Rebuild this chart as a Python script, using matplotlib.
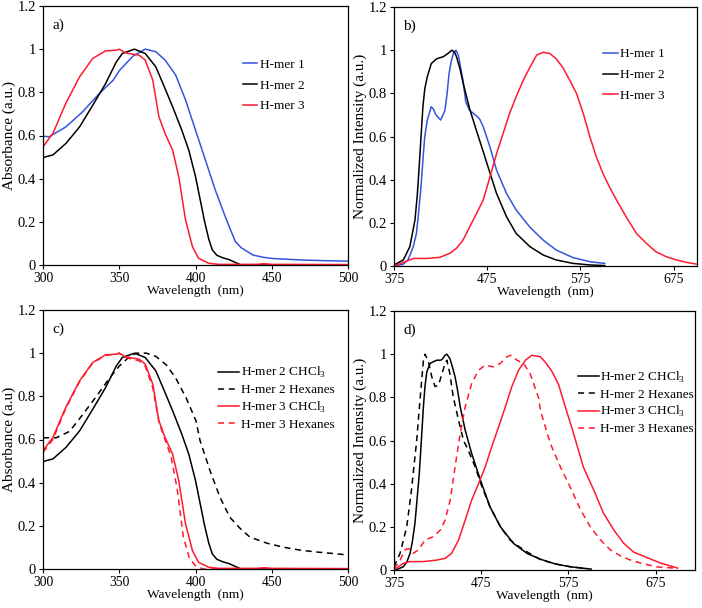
import matplotlib
matplotlib.use("Agg")
import matplotlib.pyplot as plt
from matplotlib.ticker import FuncFormatter

plt.rcParams['font.family'] = ['Liberation Serif', 'DejaVu Serif']
plt.rcParams['mathtext.fontset'] = 'custom'
plt.rcParams['mathtext.rm'] = 'Liberation Serif'

BLUE = '#3355dd'
RED = '#ff1a2e'
BLACK = '#000000'

# ---- a) absorbance in CHCl3 (also the solid curves of c)
abs_wl_h1 = [300, 304, 315, 326, 337, 346, 350, 359, 367, 374, 380, 387, 393.5, 400, 406.5,
             413, 419.5, 426, 430, 437.7, 445, 451, 470, 485, 500]
abs_h1 = [0.597, 0.594, 0.64, 0.71, 0.795, 0.856, 0.90, 0.968, 1.0, 0.988, 0.95, 0.88, 0.764,
          0.625, 0.486, 0.347, 0.224, 0.11, 0.08, 0.046, 0.035, 0.03, 0.023, 0.02, 0.018]

abs_wl_h2 = [300, 306.5, 315, 324, 332.6, 341, 348, 352, 360, 367, 374, 380, 385, 391, 395.6,
             400, 404, 406, 408.7, 411, 414, 418, 422, 426, 430, 500]
abs_h2 = [0.498, 0.51, 0.563, 0.64, 0.74, 0.84, 0.94, 0.98, 1.0, 0.98, 0.918, 0.818, 0.733,
          0.625, 0.532, 0.41, 0.27, 0.2, 0.12, 0.07, 0.045, 0.033, 0.025, 0.012, 0.0, 0.0]

abs_wl_h3 = [300, 306.5, 315, 324, 332.6, 341, 348, 350, 354, 363, 367, 372, 376, 380, 385,
             389, 393.5, 398, 402, 408.7, 415, 440, 445, 450, 500]
abs_h3 = [0.548, 0.61, 0.75, 0.872, 0.957, 0.992, 0.995, 1.0, 0.983, 0.972, 0.95, 0.856, 0.687,
          0.61, 0.532, 0.41, 0.208, 0.085, 0.031, 0.008, 0.003, 0.003, 0.006, 0.003, 0.002]

# ---- c) hexanes absorbance
abs_wl_h2_hex = [300, 308.7, 317.5, 326, 335, 343.7, 350, 355.7, 361, 367.7, 374, 380.8, 387,
                 393.9, 400.4, 402.9, 409.4, 416, 422.5, 429, 435.6, 446.6, 457, 468, 479, 490, 500]
abs_h2_hex = [0.608, 0.608, 0.638, 0.715, 0.80, 0.885, 0.94, 0.977, 1.0, 1.0, 0.985, 0.946,
              0.885, 0.792, 0.685, 0.597, 0.458, 0.333, 0.24, 0.19, 0.148, 0.12, 0.102, 0.088,
              0.079, 0.072, 0.065]

abs_wl_h3_hex = [300, 306.5, 315, 324, 332.6, 341, 348, 350, 354, 363, 367, 372, 376, 380, 384,
                 388, 392, 396, 400, 405, 500]
abs_h3_hex = [0.54, 0.60, 0.745, 0.868, 0.955, 0.99, 0.995, 1.0, 0.98, 0.965, 0.94, 0.84, 0.68,
              0.60, 0.52, 0.37, 0.15, 0.05, 0.015, 0.0, 0.0]

# ---- b) emission in CHCl3
em_wl_b_h1 = [375, 385, 390, 395.7, 399, 401, 404, 406, 408, 410.7, 415, 417.5, 420, 425, 429.6,
              432, 434, 436.5, 438.6, 441.4, 444, 449, 452, 456, 463.6, 467, 470.7, 477.9, 485,
              495.7, 506, 520.7, 535, 549, 567, 585, 601]
em_b_h1 = [0.0, 0.008, 0.028, 0.09, 0.15, 0.23, 0.37, 0.49, 0.6, 0.676, 0.738, 0.725, 0.70,
           0.676, 0.72, 0.8, 0.89, 0.95, 0.985, 1.0, 0.977, 0.86, 0.76, 0.722, 0.695, 0.68,
           0.645, 0.552, 0.444, 0.336, 0.26, 0.18, 0.12, 0.074, 0.039, 0.02, 0.012]

em_wl_b_h2 = [375, 385, 392, 397.5, 400, 402, 404, 406, 408, 410.7, 415, 420.7, 428, 433, 437,
              440, 442, 446, 449, 456, 463.6, 470.7, 478, 485, 495.7, 506, 520.7, 535, 549, 567,
              585, 601]
em_b_h2 = [0.005, 0.028, 0.09, 0.213, 0.33, 0.46, 0.6, 0.738, 0.82, 0.877, 0.938, 0.96, 0.97,
           0.985, 1.0, 0.99, 0.97, 0.91, 0.85, 0.73, 0.625, 0.53, 0.43, 0.336, 0.228, 0.151,
           0.09, 0.051, 0.028, 0.012, 0.005, 0.002]

em_wl_b_h3 = [375, 387, 396, 410, 424, 435, 442, 449, 456, 463.6, 470.7, 478, 485, 492, 499,
              506, 513.6, 520.7, 528, 535, 542, 549, 556, 563.6, 570.7, 578, 585, 592, 599, 606,
              613.6, 624, 635, 645.7, 656, 667, 678, 688.6, 699]
em_b_h3 = [0.0, 0.02, 0.035, 0.035, 0.04, 0.059, 0.082, 0.12, 0.18, 0.244, 0.306, 0.414, 0.52,
           0.614, 0.707, 0.784, 0.86, 0.92, 0.977, 0.99, 0.985, 0.96, 0.92, 0.86, 0.80, 0.707,
           0.60, 0.506, 0.43, 0.367, 0.306, 0.228, 0.151, 0.105, 0.066, 0.043, 0.028, 0.017,
           0.009]

# ---- d) emission, CHCl3 vs hexanes
em_wl_d_h2 = [375, 380, 385.7, 390, 393.4, 396, 399, 401.5, 404, 406.5, 408.7, 410.5, 412.6,
              416.4, 420, 424, 428, 430, 433.6, 435.6, 439, 442, 445, 448, 450.9, 456.6, 464,
              474, 485, 497, 512, 527.5, 542.8, 560, 577, 597, 601]
em_d_h2 = [0.0, 0.005, 0.015, 0.04, 0.077, 0.13, 0.216, 0.33, 0.447, 0.61, 0.756, 0.85, 0.918,
           0.957, 0.965, 0.972, 0.972, 0.975, 0.995, 1.0, 0.98, 0.94, 0.895, 0.83, 0.756, 0.648,
           0.54, 0.417, 0.293, 0.2, 0.123, 0.077, 0.05, 0.028, 0.015, 0.006, 0.004]

em_wl_d_h2_hex = [375, 382, 389.6, 395, 401, 405.7, 408.7, 410.6, 414.5, 418.3, 422, 426, 430,
                  433.6, 435.6, 439, 443, 449, 454.7, 460, 468, 475.8, 485, 497, 508, 523.6,
                  542.8, 560, 577, 597]
em_d_h2_hex = [0.015, 0.078, 0.2, 0.37, 0.6, 0.83, 0.97, 1.0, 0.965, 0.895, 0.85, 0.856, 0.91,
               0.957, 0.972, 0.91, 0.80, 0.694, 0.60, 0.556, 0.478, 0.386, 0.293, 0.2, 0.139,
               0.093, 0.048, 0.028, 0.015, 0.006]

em_wl_d_h3 = [375, 385.7, 393.4, 408.7, 424, 433.6, 441, 449, 456.6, 464, 472, 479.6, 487,
              494.9, 502.6, 510, 517.8, 525.6, 533, 542.8, 549, 556, 563.6, 569, 580.7, 592,
              604, 615, 627, 638, 649.7, 665.8, 680.7, 700]
em_d_h3 = [0.0, 0.031, 0.039, 0.039, 0.046, 0.054, 0.077, 0.139, 0.231, 0.324, 0.401, 0.478,
           0.571, 0.663, 0.756, 0.849, 0.926, 0.972, 0.995, 0.988, 0.96, 0.92, 0.86, 0.787,
           0.634, 0.477, 0.37, 0.264, 0.185, 0.125, 0.083, 0.056, 0.032, 0.009]

em_wl_d_h3_hex = [375, 382, 387.6, 391.5, 397, 403, 410.6, 420, 428, 433.6, 439.4, 445, 450.9,
                  456.6, 464, 472, 479.6, 489, 496.8, 504.5, 509, 516, 523.6, 531, 540.9, 542.8,
                  554, 565.8, 577, 589, 600, 611.8, 623, 634.8, 646, 657.8, 677, 696]
em_d_h3_hex = [0.005, 0.046, 0.093, 0.1, 0.077, 0.093, 0.139, 0.154, 0.185, 0.231, 0.324, 0.478,
               0.633, 0.756, 0.864, 0.926, 0.949, 0.941, 0.957, 0.988, 0.995, 0.972, 0.957, 0.91,
               0.795, 0.74, 0.588, 0.477, 0.384, 0.278, 0.2, 0.139, 0.093, 0.065, 0.046, 0.032,
               0.014, 0.009]

legend_a = ['H-mer 1', 'H-mer 2', 'H-mer 3']
legend_c = [r'H-mer 2 CHCl$_\mathregular{3}$', 'H-mer 2 Hexanes',
            r'H-mer 3 CHCl$_\mathregular{3}$', 'H-mer 3 Hexanes']

W, H = 702, 608
fig = plt.figure(figsize=(W / 100, H / 100), dpi=100)
fig.patch.set_facecolor('white')


def make_ax(left, top, right, bottom):
    return fig.add_axes([left / W, 1 - bottom / H, (right - left) / W, (bottom - top) / H])


def style(ax, xlim, xticks, ylabel, tag):
    ax.set_xlim(*xlim)
    ax.set_ylim(0, 1.2)
    ax.set_xticks(xticks)
    ax.set_yticks([0, 0.2, 0.4, 0.6, 0.8, 1.0, 1.2])
    ax.yaxis.set_major_formatter(FuncFormatter(lambda v, p: '%g' % round(v, 1)))
    ax.tick_params(direction='out', length=3, width=0.8, pad=2)
    ax.tick_params(axis='y', labelsize=10.5)
    ax.tick_params(axis='x', labelsize=9.8)
    for s in ax.spines.values():
        s.set_linewidth(0.9)
    ax.set_xlabel('Wavelength  (nm)', fontsize=9.6, labelpad=0)
    ax.set_ylabel(ylabel, fontsize=11, labelpad=1)
    ax.text(0.03, 0.95, tag, transform=ax.transAxes, fontsize=11, va='top')


lw = 1.1

# a)
ax = make_ax(43, 6, 348, 265)
ax.plot(abs_wl_h1, abs_h1, color=BLUE, lw=lw, label=legend_a[0])
ax.plot(abs_wl_h2, abs_h2, color=BLACK, lw=lw, label=legend_a[1])
ax.plot(abs_wl_h3, abs_h3, color=RED, lw=lw, label=legend_a[2])
style(ax, (300, 500), [300, 350, 400, 450, 500], 'Absorbance (a.u.)', 'a)')
ax.legend(loc='center left', bbox_to_anchor=(0.655, 0.693), frameon=False, fontsize=9.5,
          handlelength=1.1, handletextpad=0.2, labelspacing=0.65, borderpad=0, borderaxespad=0)

# b)
ax = make_ax(394, 7, 697, 266)
ax.plot(em_wl_b_h1, em_b_h1, color=BLUE, lw=lw, label=legend_a[0])
ax.plot(em_wl_b_h2, em_b_h2, color=BLACK, lw=lw, label=legend_a[1])
ax.plot(em_wl_b_h3, em_b_h3, color=RED, lw=lw, label=legend_a[2])
style(ax, (375, 700), [375, 475, 575, 675], 'Normalized Intensity (a.u.)', 'b)')
ax.legend(loc='center left', bbox_to_anchor=(0.69, 0.737), frameon=False, fontsize=9.5,
          handlelength=1.1, handletextpad=0.2, labelspacing=0.65, borderpad=0, borderaxespad=0)

# c)
ax = make_ax(43, 310, 348, 569)
ax.plot(abs_wl_h2, abs_h2, color=BLACK, lw=lw, label=legend_c[0])
ax.plot(abs_wl_h2_hex, abs_h2_hex, color=BLACK, lw=lw, ls=(0, (4, 3)), label=legend_c[1])
ax.plot(abs_wl_h3, abs_h3, color=RED, lw=lw, label=legend_c[2])
ax.plot(abs_wl_h3_hex, abs_h3_hex, color=RED, lw=lw, ls=(0, (4, 3)), label=legend_c[3])
style(ax, (300, 500), [300, 350, 400, 450, 500], 'Absorbance (a.u)', 'c)')
ax.legend(loc='center left', bbox_to_anchor=(0.574, 0.66), frameon=False, fontsize=9.5,
          handlelength=1.6, handletextpad=0.1, labelspacing=0.28, borderpad=0, borderaxespad=0)

# d)
ax = make_ax(394, 311, 695, 570)
ax.plot(em_wl_d_h2, em_d_h2, color=BLACK, lw=lw, label=legend_c[0])
ax.plot(em_wl_d_h2_hex, em_d_h2_hex, color=BLACK, lw=lw, ls=(0, (4, 3)), label=legend_c[1])
ax.plot(em_wl_d_h3, em_d_h3, color=RED, lw=lw, label=legend_c[2])
ax.plot(em_wl_d_h3_hex, em_d_h3_hex, color=RED, lw=lw, ls=(0, (4, 3)), label=legend_c[3])
style(ax, (375, 720), [375, 475, 575, 675], 'Normalized Intensity (a.u.)', 'd)')
ax.legend(loc='center left', bbox_to_anchor=(0.611, 0.647), frameon=False, fontsize=9.5,
          handlelength=1.6, handletextpad=0.1, labelspacing=0.28, borderpad=0, borderaxespad=0)

fig.savefig('out.png', dpi=100, facecolor='white')
